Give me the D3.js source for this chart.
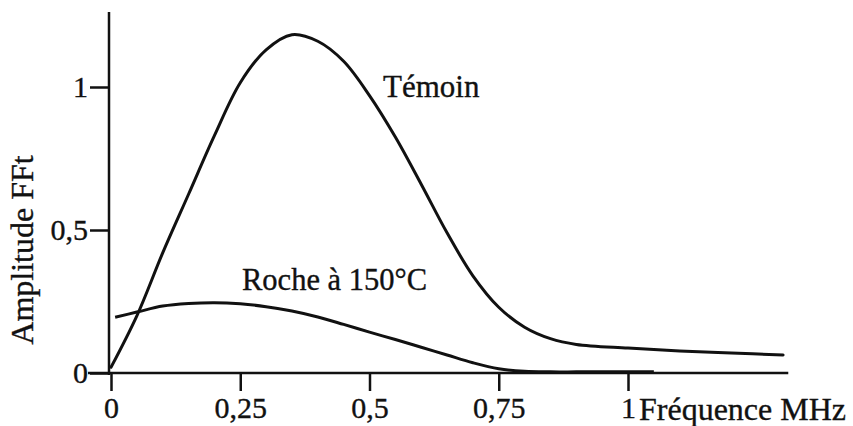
<!DOCTYPE html>
<html>
<head>
<meta charset="utf-8">
<script src="https://cdn.jsdelivr.net/npm/d3@7"></script>
<style>
  html, body { margin: 0; padding: 0; background: #fff; }
  svg text { font-family: "Liberation Serif", "Times New Roman", serif; fill: #111; stroke: #111; stroke-width: 0.35px; }
</style>
</head>
<body>
<svg id="chart" width="853" height="426"></svg>
<script>
// Spectre FFT : fréquence (MHz) et amplitude des deux signaux
const freqTemoin = [0, 0.05, 0.1, 0.15, 0.2, 0.25, 0.3, 0.35, 0.4, 0.45, 0.5, 0.55, 0.6, 0.65, 0.7, 0.75, 0.8, 0.85, 0.9, 1.0, 1.1, 1.2, 1.3];
const ampTemoin  = [0.02, 0.2, 0.42, 0.625, 0.83, 1.015, 1.13, 1.183, 1.16, 1.09, 0.97, 0.825, 0.66, 0.49, 0.34, 0.23, 0.16, 0.12, 0.1, 0.087, 0.077, 0.07, 0.063];

const freqRoche = [0.008, 0.05, 0.1, 0.15, 0.2, 0.25, 0.3, 0.35, 0.4, 0.45, 0.5, 0.55, 0.6, 0.65, 0.7, 0.75, 0.8, 0.85, 0.9, 0.95, 1.0, 1.05];
const ampRoche  = [0.195, 0.213, 0.234, 0.243, 0.246, 0.242, 0.232, 0.217, 0.196, 0.17, 0.143, 0.117, 0.09, 0.063, 0.036, 0.015, 0.006, 0.004, 0.004, 0.004, 0.004, 0.004];

const xTicks = [0, 0.25, 0.5, 0.75, 1];
const xTickLabels = ["0", "0,25", "0,5", "0,75", "1"];
const yTicks = [0, 0.5, 1];
const yTickLabels = ["0", "0,5", "1"];

const svg = d3.select("#chart");

const x = d3.scaleLinear().domain([0, 1]).range([111, 628]);
const y = d3.scaleLinear().domain([0, 1]).range([373, 87]);

const ink = "#111";

// Axes
const xAxis = svg.append("g").attr("transform", `translate(0,${y(0)})`)
  .call(d3.axisBottom(x).tickValues(xTicks).tickFormat((d, i) => xTickLabels[i]).tickSize(18).tickPadding(6));
xAxis.select(".domain").remove();
xAxis.append("line")
  .attr("x1", 88).attr("x2", x(1.31))
  .attr("stroke", ink).attr("stroke-width", 2.5);
xAxis.selectAll(".tick line").attr("stroke", ink).attr("stroke-width", 2.5);
xAxis.selectAll(".tick text").attr("font-size", 30).attr("fill", ink)
  .attr("font-family", "Liberation Serif, Times New Roman, serif");

const yAxis = svg.append("g").attr("transform", `translate(${x(0) - 2},0)`)
  .call(d3.axisLeft(y).tickValues(yTicks).tickFormat((d, i) => yTickLabels[i]).tickSize(19).tickPadding(2));
yAxis.select(".domain").remove();
yAxis.append("line")
  .attr("y1", 12).attr("y2", y(0) + 2)
  .attr("stroke", ink).attr("stroke-width", 2.5);
yAxis.selectAll(".tick line").attr("stroke", ink).attr("stroke-width", 2.5);
yAxis.selectAll(".tick text").attr("font-size", 30).attr("fill", ink)
  .attr("font-family", "Liberation Serif, Times New Roman, serif");

// Curves
const line = d3.line()
  .x(d => x(d[0]))
  .y(d => y(d[1]))
  .curve(d3.curveCatmullRom.alpha(0.5));

svg.append("path")
  .datum(d3.zip(freqTemoin, ampTemoin))
  .attr("d", line)
  .attr("fill", "none").attr("stroke", ink).attr("stroke-width", 3)
  .attr("stroke-linecap", "round").attr("stroke-linejoin", "round");

svg.append("path")
  .datum(d3.zip(freqRoche, ampRoche))
  .attr("d", line)
  .attr("fill", "none").attr("stroke", ink).attr("stroke-width", 3)
  .attr("stroke-linejoin", "round");

// Labels
svg.append("text").attr("x", 383).attr("y", 97).attr("font-size", 31).text("Témoin");
svg.append("text").attr("x", 242).attr("y", 290).attr("font-size", 30.5).text("Roche à 150°C");
svg.append("text").attr("x", 639).attr("y", 420).attr("font-size", 32).text("Fréquence MHz");
svg.append("text")
  .attr("transform", "translate(33,250) rotate(-90)")
  .attr("text-anchor", "middle")
  .attr("font-size", 32)
  .text("Amplitude FFt");
</script>
</body>
</html>
